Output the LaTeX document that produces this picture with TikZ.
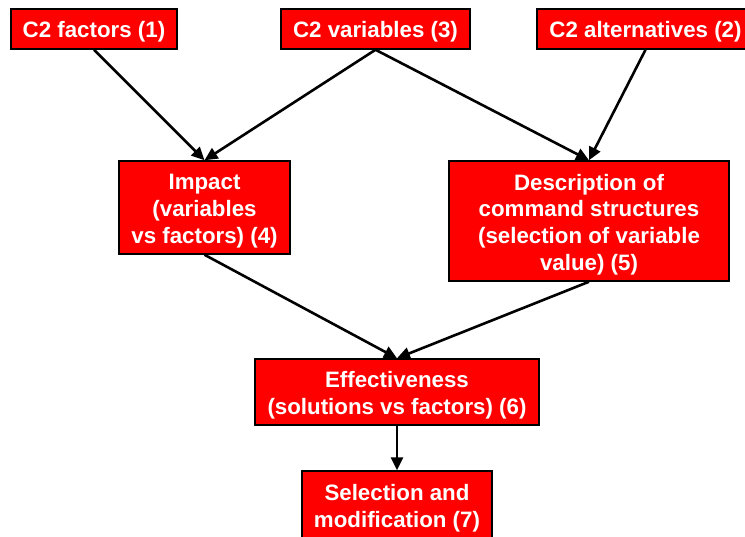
\documentclass[tikz,border=0pt]{standalone}
\usepackage{fontspec}
\setmainfont{Liberation Sans}
\usetikzlibrary{arrows.meta}
\begin{document}
\begin{tikzpicture}[x=1pt,y=-1pt,
  box/.style={draw=black, line width=1.5pt, fill=red, inner sep=0pt},
  txt/.style={text=white, font=\bfseries\fontsize{22.3}{26.8}\selectfont, align=center, inner sep=0pt},
  arr/.style={-{Triangle[length=13pt,width=12pt]}, line width=2.6pt}]
\useasboundingbox (0,0) rectangle (745,536);
\node[box, minimum width=166pt, minimum height=40pt] (f) at (94,29) {};
\node[box, minimum width=189pt, minimum height=40pt] (v) at (375.5,29) {};
\node[box, minimum width=217pt, minimum height=40pt] (a) at (645.5,29) {};
\node[box, minimum width=171pt, minimum height=93pt] (i) at (204.5,207.5) {};
\node[box, minimum width=280pt, minimum height=120pt] (d) at (589,221) {};
\node[box, minimum width=284pt, minimum height=66pt] (e) at (397,392) {};
\node[box, minimum width=190pt, minimum height=72pt] (s) at (397,507) {};
\node[txt] (ft) at ([yshift=-2.5pt]f.center) {C2 factors (1)};
\node[txt] (vt) at ([yshift=-2.5pt]v.center) {C2 variables (3)};
\node[txt] (at) at ([yshift=-2.5pt]a.center) {C2 alternatives (2)};
\node[txt] (it) at ([yshift=-3.5pt]i.center) {Impact\\(variables\\vs factors) (4)};
\node[txt] (dt) at ([yshift=-3.5pt]d.center) {Description of\\command structures\\(selection of variable\\value) (5)};
\node[txt] (et) at ([yshift=-3.5pt]e.center) {Effectiveness\\(solutions vs factors) (6)};
\node[txt] (st) at ([yshift=-1pt]s.center) {Selection and\\modification (7)};
\draw[arr] (f.south) -- (i.north);
\draw[arr] (v.south) -- (i.north);
\draw[arr] (v.south) -- (d.north);
\draw[arr] (a.south) -- (d.north);
\draw[arr] (i.south) -- (e.north);
\draw[arr] (d.south) -- (e.north);
\draw[arr] (e.south) -- (s.north);
\end{tikzpicture}
\end{document}
